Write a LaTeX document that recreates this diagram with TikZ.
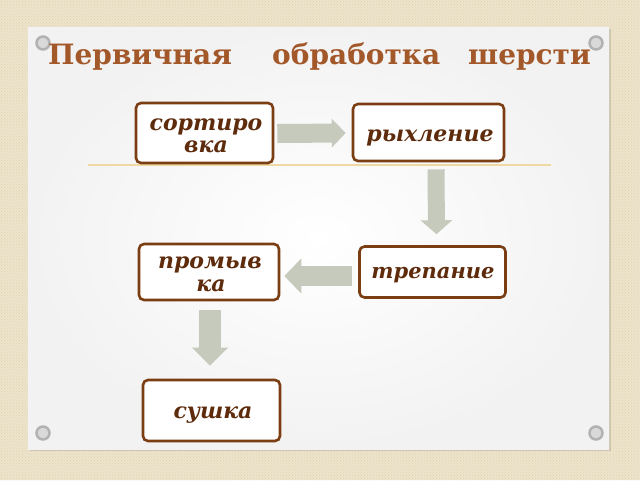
\documentclass[tikz,border=0pt]{standalone}
\usepackage{fontspec}
\setmainfont{DejaVu Serif}
\usetikzlibrary{arrows.meta,shadows,patterns}
\definecolor{bgbeige}{HTML}{EDE4CB}
\definecolor{bgdot}{HTML}{DDD2B4}
\definecolor{titlebrown}{HTML}{A3582A}
\definecolor{boxborder}{HTML}{7A3E12}
\definecolor{boxtext}{HTML}{5E2C0C}
\definecolor{arrowfill}{HTML}{C5CABC}
\definecolor{ruleline}{HTML}{EED9A2}
\definecolor{panelgrey}{HTML}{F2F2F2}
\tikzset{
  stagebox/.style={draw=boxborder, line width=2.6pt, rounded corners=5pt, fill=white, inner sep=0pt},
  stagetext/.style={font=\bfseries\itshape\fontsize{22}{24}\selectfont, text=boxtext, anchor=base, inner sep=0pt},
  blockarrow/.style={draw=arrowfill, color=arrowfill},
  titleword/.style={font=\bfseries\fontsize{28}{30}\selectfont, text=titlebrown, anchor=base west, inner sep=0pt},
  grommet/.style={circle, draw=gray!60, line width=2.5pt, fill=gray!30, minimum size=13pt, inner sep=0pt},
}
\begin{document}
\begin{tikzpicture}[x=1pt,y=-1pt]
\useasboundingbox (0,0) rectangle (640,480);
\fill[bgbeige] (0,0) rectangle (640,480);
\fill[pattern=crosshatch dots, pattern color=bgdot] (0,0) rectangle (640,480);
% panel
\fill[black, opacity=0.12] (30,29) rectangle (611,451);
\shade[inner color=white, outer color=panelgrey] (28,27) rectangle (609,449);
% grommets
\node[grommet] (g1) at (43,43) {};
\node[grommet] (g2) at (596,43) {};
\node[grommet] (g3) at (43,433) {};
\node[grommet] (g4) at (596,433) {};
% title
\node[titleword] (t1) at (48,64) {Первичная};
\node[titleword] (t2) at (272,64) {обработка};
\node[titleword] (t3) at (468,64) {шерсти};
% rule
\coordinate (rl) at (88,165);
\coordinate (rr) at (551,165);
\draw[ruleline, line width=1.6pt] (rl) -- (rr);
% boxes
\node[stagebox, minimum width=137pt, minimum height=60pt] (sort) at (204.5,133) {};
\node[stagebox, minimum width=151pt, minimum height=57pt] (ryx) at (428.5,132.5) {};
\node[stagebox, minimum width=146pt, minimum height=51pt] (trep) at (432.5,272) {};
\node[stagebox, minimum width=140pt, minimum height=56pt] (prom) at (209,272) {};
\node[stagebox, minimum width=137pt, minimum height=61pt] (sush) at (211.5,410.5) {};
% texts
\node[stagetext] (sortA) at (206,130) {сортиро};
\node[stagetext] (sortB) at (206,152) {вка};
\node[stagetext] (ryxA) at (430,141) {рыхление};
\node[stagetext] (promA) at (210,268) {промыв};
\node[stagetext] (promB) at (211,291) {ка};
\node[stagetext, font=\bfseries\itshape\fontsize{21}{24}\selectfont] (trepA) at (433,278) {трепание};
\node[stagetext] (sushA) at (213,418) {сушка};
% arrows (xshift/yshift are in page directions: positive yshift is upward)
\draw[blockarrow, line width=19pt, -{Triangle[width=28pt,length=14pt]}]
  ([xshift=3pt,yshift=-0.5pt]sort.east) -- ([xshift=-6pt,yshift=-0.5pt]ryx.west);
\draw[blockarrow, line width=17pt, -{Triangle[width=31pt,length=14pt]}]
  ([xshift=7.5pt,yshift=-7pt]ryx.south) -- ([xshift=4pt,yshift=11pt]trep.north);
\draw[blockarrow, line width=20pt, -{Triangle[width=34pt,length=17pt]}]
  ([xshift=-6pt,yshift=-4pt]trep.west) -- ([xshift=4pt,yshift=-4pt]prom.east);
\draw[blockarrow, line width=22pt, -{Triangle[width=35pt,length=18pt]}]
  ([xshift=1pt,yshift=-9pt]prom.south) -- ([xshift=-1.5pt,yshift=13pt]sush.north);
\end{tikzpicture}
\end{document}
